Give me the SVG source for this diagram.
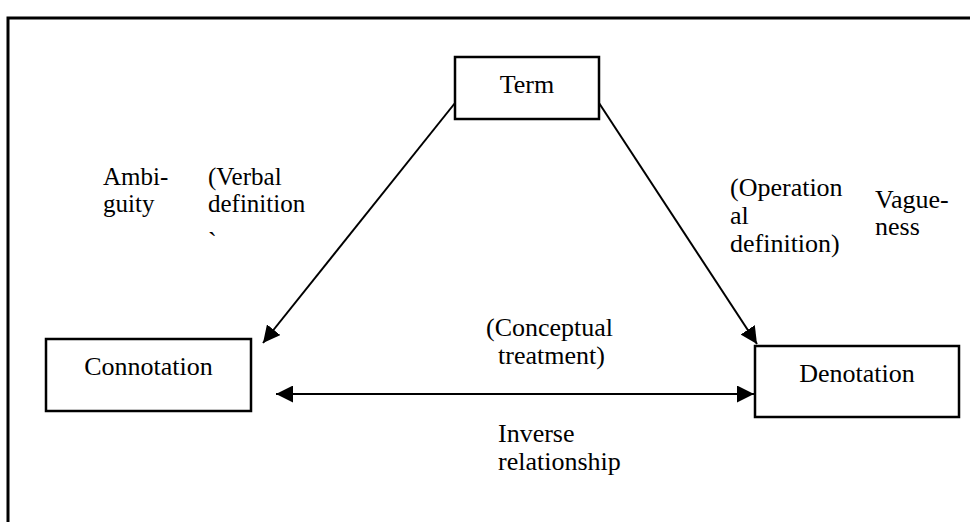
<svg xmlns="http://www.w3.org/2000/svg" width="970" height="522" viewBox="0 0 970 522">
<defs>
<style>
text{font-family:"Liberation Serif","Times New Roman",serif;font-size:26px;fill:#000}
.tight{font-size:25px}
.box{fill:#fff;stroke:#000;stroke-width:2.5}
.frame{stroke:#000;stroke-width:3;fill:none}
.conn{stroke:#000;stroke-width:2;fill:none}
</style>
<marker id="ah" markerUnits="userSpaceOnUse" markerWidth="17" markerHeight="17" refX="16" refY="8" orient="auto-start-reverse" viewBox="0 0 16 16">
<path d="M0,0 L16,8 L0,16 z" fill="#000"/>
</marker>
</defs>
<rect width="970" height="522" fill="#fff"/>
<path class="frame" d="M8,522 V18 H970"/>
<g id="connectors">
<line class="conn" x1="455" y1="103" x2="263" y2="343" marker-end="url(#ah)"/>
<line class="conn" x1="599" y1="103" x2="757" y2="344" marker-end="url(#ah)"/>
<line class="conn" x1="276" y1="394" x2="754" y2="394" marker-start="url(#ah)" marker-end="url(#ah)"/>
</g>
<g id="term">
<rect class="box" x="455" y="57" width="144" height="62"/>
<text x="527" y="93" text-anchor="middle">Term</text>
</g>
<g id="connotation">
<rect class="box" x="46" y="339" width="205" height="72"/>
<text x="148.5" y="375" text-anchor="middle">Connotation</text>
</g>
<g id="denotation">
<rect class="box" x="755" y="346" width="204" height="71"/>
<text x="857" y="382" text-anchor="middle">Denotation</text>
</g>
<g id="labels">
<text class="tight" x="103" y="185">Ambi-</text>
<text class="tight" x="103" y="212">guity</text>
<text class="tight" x="208" y="185">(Verbal</text>
<text class="tight" x="208" y="212">definition</text>
<text x="208" y="250">`</text>
<text x="730" y="196">(Operation</text>
<text x="730" y="224">al</text>
<text x="730" y="252">definition)</text>
<text x="875" y="208">Vague-</text>
<text x="875" y="235">ness</text>
<text x="486" y="336">(Conceptual</text>
<text x="498" y="364">treatment)</text>
<text x="498" y="442">Inverse</text>
<text x="498" y="470">relationship</text>
</g>
</svg>
